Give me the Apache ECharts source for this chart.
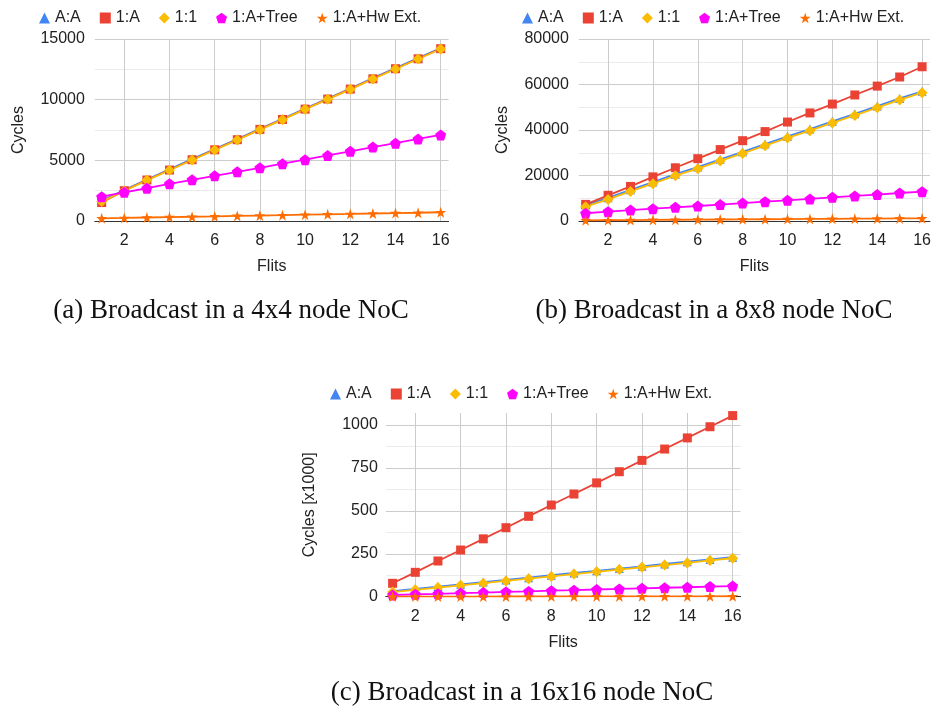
<!DOCTYPE html>
<html>
<head>
<meta charset="utf-8">
<title>Broadcast latency in NoCs</title>
<script src="https://cdn.jsdelivr.net/npm/echarts@6/dist/echarts.min.js"></script>
<style>
  html, body { margin: 0; padding: 0; background: #ffffff; }
  #main { width: 934px; height: 706px; }
</style>
</head>
<body>
<div id="main"></div>
<script>
// Message length in flits (x axis of every panel)
const flits = [1, 2, 3, 4, 5, 6, 7, 8, 9, 10, 11, 12, 13, 14, 15, 16];
const flitTicks = [2, 4, 6, 8, 10, 12, 14, 16];

const seriesNames = ['A:A', '1:A', '1:1', '1:A+Tree', '1:A+Hw Ext.'];

// (a) 4x4 mesh, cycles
const noc4AA   = [1680, 2550, 3420, 4250, 5100, 5920, 6750, 7600, 8420, 9270, 10100, 10920, 11770, 12600, 13420, 14250];
const noc4OneA = [1520, 2500, 3380, 4200, 5050, 5870, 6700, 7550, 8370, 9220, 10050, 10870, 11720, 12550, 13370, 14200];
const noc4One1 = [1600, 2470, 3350, 4180, 5030, 5850, 6680, 7530, 8350, 9200, 10030, 10850, 11700, 12530, 13350, 14180];
const noc4Tree = [2000, 2360, 2700, 3060, 3390, 3720, 4050, 4380, 4720, 5050, 5400, 5740, 6090, 6410, 6760, 7090];
const noc4Hw   = [220, 250, 290, 320, 350, 380, 420, 450, 480, 520, 550, 580, 620, 650, 680, 720];

// (b) 8x8 mesh, cycles
const noc8AA   = [7000, 10200, 13700, 17100, 20600, 23700, 27100, 30400, 33800, 37200, 40400, 43800, 47100, 50500, 53900, 57000];
const noc8OneA = [7300, 11300, 15200, 19400, 23400, 27400, 31400, 35300, 39300, 43500, 47500, 51400, 55400, 59300, 63300, 67800];
const noc8One1 = [6300, 9500, 13000, 16400, 19900, 23000, 26400, 29700, 33100, 36500, 39700, 43100, 46400, 49800, 53200, 56400];
const noc8Tree = [3400, 4100, 4800, 5400, 6000, 6600, 7200, 7900, 8500, 9100, 9700, 10400, 11000, 11600, 12300, 12900];
const noc8Hw   = [300, 360, 420, 480, 540, 600, 660, 720, 780, 840, 900, 960, 1020, 1080, 1140, 1190];

// (c) 16x16 mesh, thousands of cycles
const noc16AA   = [33, 46, 59, 72, 85, 98, 111, 125, 138, 151, 164, 177, 191, 204, 217, 230];
const noc16OneA = [78, 142, 208, 272, 337, 402, 468, 534, 598, 663, 728, 794, 860, 925, 990, 1055];
const noc16One1 = [27, 40, 53, 66, 79, 92, 105, 118, 132, 145, 158, 171, 184, 197, 211, 224];
const noc16Tree = [10, 14, 17, 21, 24, 28, 31, 35, 38, 42, 45, 49, 52, 55, 59, 62];
const noc16Hw   = [0.5, 0.6, 0.8, 0.9, 1.0, 1.2, 1.3, 1.4, 1.6, 1.7, 1.8, 2.0, 2.1, 2.2, 2.4, 2.5];

// y axis: labelled values and gridline steps (major + minor)
const noc4YLabels  = [0, 5000, 10000, 15000];
const noc4YGrid    = [0, 2500, 5000, 7500, 10000, 12500, 15000];
const noc8YLabels  = [0, 20000, 40000, 60000, 80000];
const noc8YGrid    = [0, 10000, 20000, 30000, 40000, 50000, 60000, 70000, 80000];
const noc16YLabels = [0, 250, 500, 750, 1000];
const noc16YGrid   = [0, 125, 250, 375, 500, 625, 750, 875, 1000];

const captions = [
  '(a) Broadcast in a 4x4 node NoC',
  '(b) Broadcast in a 8x8 node NoC',
  '(c) Broadcast in a 16x16 node NoC'
];

// ---- styling ----
const FONT = '"Liberation Sans", Arial, sans-serif';
const TEXT = '#222222';
const colors = ['#4285F4', '#EA4335', '#FBBC04', '#FF00FF', '#FF6D01'];
const PENTAGON = 'path://M0,-1 L0.951,-0.309 L0.588,0.809 L-0.588,0.809 L-0.951,-0.309 Z';
const STAR = 'path://M0,-1 L0.2245,-0.309 L0.951,-0.309 L0.3633,0.118 L0.588,0.809 L0,0.382 L-0.588,0.809 L-0.3633,0.118 L-0.951,-0.309 L-0.2245,-0.309 Z';
const symbols = ['triangle', 'rect', 'diamond', PENTAGON, STAR];
const symbolSizes = [9, 9, 11, 11, 11];

const panels = [
  { grid: { left: 94.9, top: 39, width: 353.7, height: 182 },
    yMax: 15000, yStep: 2500, yLabels: noc4YLabels, yGrid: noc4YGrid,
    yName: 'Cycles', labelMargin: 10,
    legend: { left: 34, top: 5 }, caption: { x: 231, y: 311 },
    data: [noc4AA, noc4OneA, noc4One1, noc4Tree, noc4Hw] },
  { grid: { left: 578.9, top: 39, width: 354, height: 182 },
    yMax: 80000, yStep: 10000, yLabels: noc8YLabels, yGrid: noc8YGrid,
    yName: 'Cycles', labelMargin: 10,
    legend: { left: 517, top: 5 }, caption: { x: 714, y: 311 },
    data: [noc8AA, noc8OneA, noc8One1, noc8Tree, noc8Hw] },
  { grid: { left: 385.8, top: 413, width: 354.8, height: 183.7 },
    yMax: 1070, yStep: 125, yLabels: noc16YLabels, yGrid: noc16YGrid,
    yName: 'Cycles [x1000]', labelMargin: 8,
    legend: { left: 325, top: 381 }, caption: { x: 522, y: 693 },
    data: [noc16AA, noc16OneA, noc16One1, noc16Tree, noc16Hw] }
];

const option = {
  animation: false,
  backgroundColor: '#ffffff',
  textStyle: { fontFamily: FONT, color: TEXT },
  grid: [], xAxis: [], yAxis: [], legend: [], series: [],
  graphic: []
};

panels.forEach((p, gi) => {
  option.grid.push(Object.assign({ containLabel: false }, p.grid));

  option.xAxis.push({
    type: 'value', gridIndex: gi, min: 0.7, max: 16.35,
    name: 'Flits', nameLocation: 'middle', nameGap: 38,
    nameTextStyle: { fontFamily: FONT, fontSize: 16, color: TEXT },
    axisLine: { show: true, onZero: false, lineStyle: { color: '#333333', width: 1 } },
    axisTick: { show: false, customValues: flitTicks },
    axisLabel: { customValues: flitTicks, fontFamily: FONT, fontSize: 16, color: TEXT, margin: 12,
                 formatter: v => String(v) },
    splitLine: { show: true, lineStyle: { color: '#cccccc', width: 1 } }
  });

  option.yAxis.push({
    type: 'value', gridIndex: gi, min: 0, max: p.yMax, interval: p.yStep,
    name: p.yName, nameLocation: 'middle', nameGap: 68,
    nameTextStyle: { fontFamily: FONT, fontSize: 16, color: TEXT },
    axisLine: { show: false },
    axisTick: { show: false, customValues: p.yGrid },
    axisLabel: { customValues: p.yLabels, fontFamily: FONT, fontSize: 16, color: TEXT, margin: p.labelMargin,
                 formatter: v => String(v) },
    splitLine: { show: true, lineStyle: { color: ['#cccccc', '#ebebeb'], width: 1 } }
  });

  option.legend.push({
    left: p.legend.left, top: p.legend.top, orient: 'horizontal',
    itemWidth: 11, itemHeight: 11, itemGap: 19,
    selectedMode: false,
    textStyle: { fontFamily: FONT, fontSize: 16, color: TEXT },
    data: seriesNames.map((n, i) => ({ name: n, icon: symbols[i], itemStyle: { color: colors[i] } }))
  });

  seriesNames.forEach((name, si) => {
    option.series.push({
      type: 'line', name: name,
      xAxisIndex: gi, yAxisIndex: gi,
      data: flits.map((f, k) => [f, p.data[si][k]]),
      symbol: symbols[si], symbolSize: symbolSizes[si],
      itemStyle: { color: colors[si] },
      lineStyle: { color: colors[si], width: 1.8 },
      emphasis: { disabled: true }
    });
  });

  option.graphic.push({
    type: 'text', x: p.caption.x, y: p.caption.y,
    style: {
      text: captions[gi],
      font: '27px "Liberation Serif", "Times New Roman", serif',
      fill: '#111111', align: 'center', verticalAlign: 'middle'
    }
  });
});

const chart = echarts.init(document.getElementById('main'), null, { renderer: 'canvas' });
chart.setOption(option);
</script>
</body>
</html>
